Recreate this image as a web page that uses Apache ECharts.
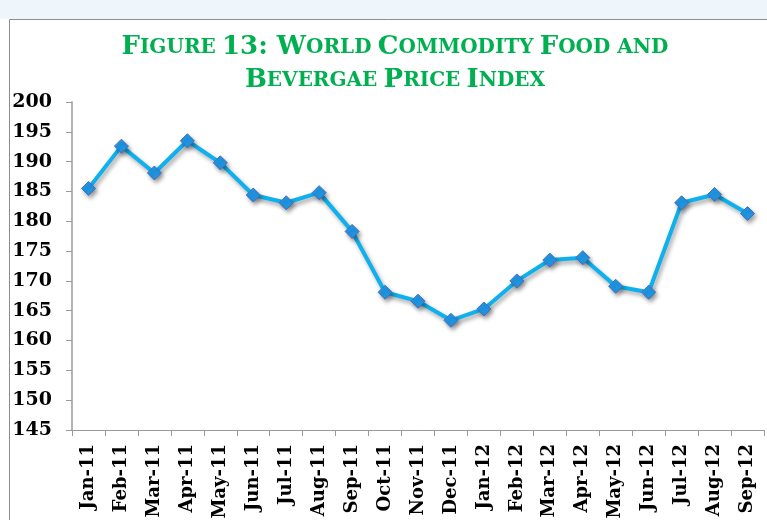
<!DOCTYPE html>
<html>
<head>
<meta charset="utf-8">
<title>World Commodity Food and Beverage Price Index</title>
<script src="https://cdn.jsdelivr.net/npm/echarts@6/dist/echarts.min.js"></script>
<style>
    html, body { margin: 0; padding: 0; background: #fff; }
    #main { width: 767px; height: 520px; }
</style>
</head>
<body>
<div id="main"></div>
<script>
// month labels on the x axis
var months = ['Jan-11', 'Feb-11', 'Mar-11', 'Apr-11', 'May-11', 'Jun-11', 'Jul-11', 'Aug-11', 'Sep-11', 'Oct-11', 'Nov-11', 'Dec-11',
    'Jan-12', 'Feb-12', 'Mar-12', 'Apr-12', 'May-12', 'Jun-12', 'Jul-12', 'Aug-12', 'Sep-12'];
// index values
var priceIndex = [185.5, 192.6, 188.1, 193.5, 189.8, 184.4, 183.1, 184.8, 178.3, 168.1, 166.6, 163.4,
    165.3, 170.0, 173.5, 173.9, 169.1, 168.1, 183.1, 184.5, 181.3];
// y axis range
var yMin = 145;
var yMax = 200;
var yStep = 5;

window.onload = () => {
    var chartDom = document.getElementById('main');
    var myChart = echarts.init(chartDom);
    var serif = '"DejaVu Serif", serif';
    var green = '#00b050';
    var option;
    option = {
        animation: false,
        backgroundColor: '#fff',
        title: {
            left: 390,
            textAlign: 'center',
            top: 26,
            text: '{a|F}{b|IGURE} {a|13: W}{b|ORLD} {a|C}{b|OMMODITY} {a|F}{b|OOD AND}\n{a|B}{b|EVERGAE} {a|P}{b|RICE} {a|I}{b|NDEX}',
            textStyle: {
                color: green,
                fontFamily: serif,
                fontWeight: 'bold',
                lineHeight: 33,
                rich: {
                    a: { fontSize: 26, fontWeight: 'bold', fontFamily: serif, color: green, lineHeight: 33 },
                    b: { fontSize: 20, fontWeight: 'bold', fontFamily: serif, color: green, lineHeight: 33 }
                }
            }
        },
        graphic: [
            {
                type: 'rect',
                shape: { x: 0, y: 0, width: 767, height: 19 },
                style: { fill: '#eef6fb' },
                silent: true
            },
            {
                type: 'rect',
                shape: { x: 9.5, y: 19.5, width: 800, height: 600 },
                style: { fill: 'none', stroke: '#8c8c8c', lineWidth: 1 },
                silent: true
            }
        ],
        grid: {
            left: 72,
            right: 3,
            top: 102,
            bottom: 90,
            outerBoundsMode: 'none'
        },
        xAxis: [{
            type: 'category',
            boundaryGap: true,
            data: months,
            axisLine: { lineStyle: { color: '#9a9a9a' } },
            axisTick: { show: true, length: 6, lineStyle: { color: '#9a9a9a' } },
            axisLabel: {
                rotate: 90,
                margin: 14,
                interval: 0,
                color: '#000',
                fontFamily: serif,
                fontWeight: 'bold',
                fontSize: 18
            },
            splitLine: { show: false }
        }],
        yAxis: [{
            type: 'value',
            min: yMin,
            max: yMax,
            interval: yStep,
            axisLine: { show: true, lineStyle: { color: '#b4b4b4', width: 2 } },
            axisTick: { show: true, length: 6, lineStyle: { color: '#9a9a9a' } },
            axisLabel: {
                margin: 20,
                color: '#000',
                fontFamily: serif,
                fontWeight: 'bold',
                fontSize: 19
            },
            splitLine: { show: false }
        }],
        series: [{
            name: 'Price Index',
            type: 'line',
            data: priceIndex,
            symbol: 'diamond',
            symbolSize: 14,
            lineStyle: {
                color: '#0fb0ee',
                width: 4,
                shadowColor: 'rgba(0,0,0,0.35)',
                shadowBlur: 4,
                shadowOffsetX: 2,
                shadowOffsetY: 3
            },
            itemStyle: {
                color: '#1f97e4',
                borderColor: '#4a6cbf',
                borderWidth: 1,
                shadowColor: 'rgba(0,0,0,0.35)',
                shadowBlur: 4,
                shadowOffsetX: 2,
                shadowOffsetY: 3
            }
        }]
    };
    option && myChart.setOption(option);
}
</script>
</body>
</html>
